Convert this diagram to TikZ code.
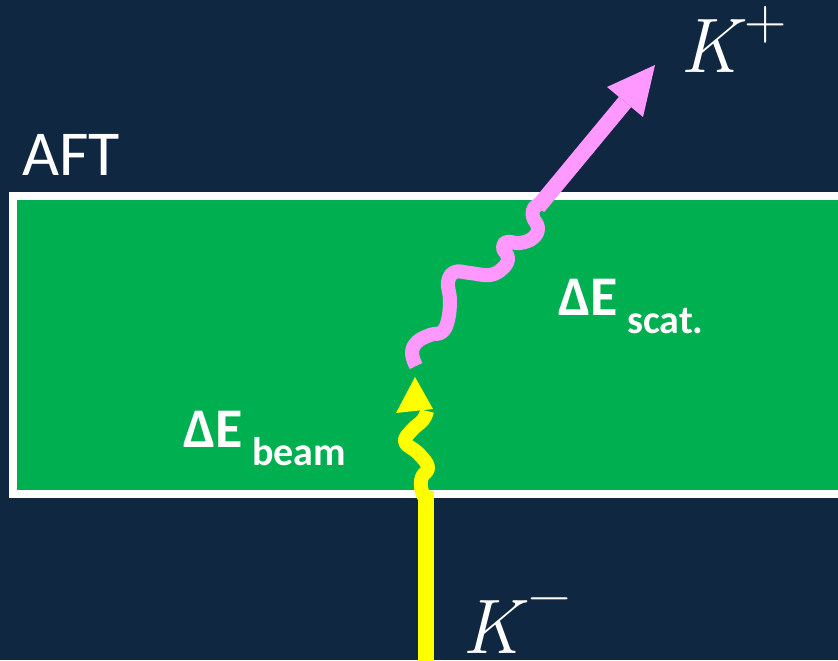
\documentclass[tikz,border=0pt]{standalone}
\usepackage{fontspec}
\setsansfont{Carlito}
\definecolor{bg}{HTML}{0F2741}
\definecolor{boxgreen}{HTML}{00B050}
\definecolor{kpink}{HTML}{FF99FF}
\definecolor{kyellow}{HTML}{FFFF00}
\tikzset{
  lbl/.style={anchor=base west, inner sep=0pt, text=white},
  kfont/.style={font=\rmfamily\itshape\fontsize{58}{66}\selectfont},
  chgfont/.style={font=\rmfamily\fontsize{44}{50}\selectfont},
  wavy/.style={line width=10.5pt, line cap=butt, line join=round},
}
\begin{document}
\begin{tikzpicture}[x=0.75pt,y=-0.75pt]
\fill[bg] (0,0) rectangle (838,660);
\useasboundingbox (0,0) rectangle (838,660);
\begin{scope}
\clip (0,0) rectangle (838,660);
\draw[white, line width=6pt, fill=boxgreen] (13,196) rectangle (850,494);
% K- track
\coordinate (kmin) at (426,665);
\coordinate (kmbend) at (426,491);
\draw[kyellow, line width=12pt] (kmin) -- (kmbend);
\draw[kyellow, wavy] plot[smooth, tension=0.7] coordinates {(424,497) (421,487) (422,477) (428,467) (418,453) (405,442) (412,430) (423,420) (427,411)};
\coordinate (kmtip) at (415,377);
\fill[kyellow] (396,413) -- (kmtip) -- (433,409) -- cycle;
% K+ track
\draw[kpink, wavy] plot[smooth, tension=0.7] coordinates {(416,366) (412,353) (417,342) (430,335) (442,332) (448,320) (450,300) (448,282) (455,272) (470,273) (490,275) (503,268) (508,258) (503,248) (507,242) (520,243) (533,238) (538,228) (533,217) (534,208) (542,203)};
\coordinate (kpstart) at (538,207);
\coordinate (kpbase) at (625,102);
\coordinate (kptip) at (655,65);
\draw[kpink, line width=12pt] (kpstart) -- (kpbase);
\fill[kpink] (kptip) -- (607,87) -- (643,117) -- cycle;
\end{scope}
% labels
\node[lbl, font=\sffamily\fontsize{48}{50}\selectfont] (aft) at (22,175) {AFT};
\node[lbl, font=\sffamily\bfseries\fontsize{42}{50}\selectfont] (deb) at (183,447) {ΔE};
\node[lbl, font=\sffamily\bfseries\fontsize{30}{36}\selectfont] (debs) at (252,465) {beam};
\node[lbl, font=\sffamily\bfseries\fontsize{42}{50}\selectfont] (des) at (558,315) {ΔE};
\node[lbl, font=\sffamily\bfseries\fontsize{30}{36}\selectfont] (dess) at (627,333) {scat.};
\node[lbl, kfont] (kp) at (680,73) {K};
\node[text=white, inner sep=0pt, chgfont] (kpc) at (766,25) {+};
\node[lbl, kfont] (km) at (462,653) {K};
\node[text=white, inner sep=0pt, chgfont] (kmc) at (550,606) {−};
\end{tikzpicture}
\end{document}
